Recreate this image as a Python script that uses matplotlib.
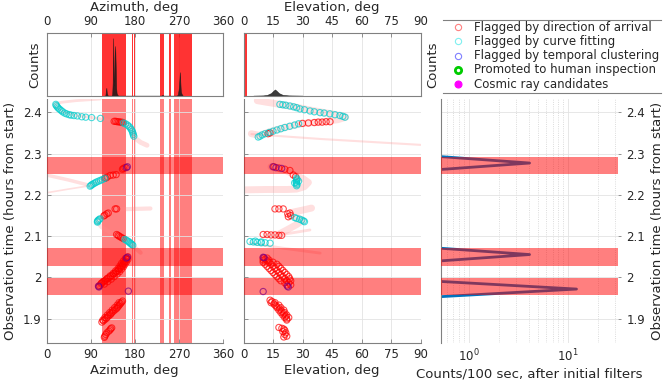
import matplotlib
matplotlib.use("Agg")
import matplotlib.pyplot as plt
from matplotlib.lines import Line2D

# ---- data ----
az_spans = [(113.5, 161.5), (174.5, 176.5), (179, 181), (231, 240), (250, 254), (261, 297)]
el_spans = [(0, 2)]
time_bands = [(2.250, 2.292), (2.029, 2.071), (1.957, 1.998)]

az_hist_deg = [118, 120, 121, 122, 123, 125, 130, 133, 134, 135, 136, 137, 138, 139, 140, 141, 142,
               143, 144, 146, 150, 234, 236, 237, 239, 266, 268, 270, 271, 272, 273, 274, 276, 278]
az_hist_cnt = [0, 0, 3, 6, 2, 0, 0, 0, 1, 10, 44, 12, 8, 30, 38, 25, 6,
               2, 1, 0, 0, 0, 0.5, 0.5, 0, 0, 1, 6, 12, 18, 10, 3, 1, 0]
el_hist_deg = [5, 10, 12, 14, 15, 16, 17, 18, 20, 23, 30]
el_hist_cnt = [0, 0.2, 0.6, 2, 3.5, 4.8, 3.5, 2, 0.6, 0.2, 0]

# azimuth panel: flagged by direction of arrival
az_dir_t = [2.378, 2.378, 2.377, 2.377, 2.376, 2.376, 2.375,
            2.266, 2.264, 2.262, 2.249, 2.248, 2.247, 2.243, 2.241, 2.240,
            2.166, 2.166, 2.156, 2.154, 2.151, 2.149,
            2.104, 2.102, 2.100, 2.098, 2.096, 2.094,
            2.050, 2.047, 2.044, 2.041, 2.038, 2.035, 2.032, 2.029, 2.026, 2.023, 2.020, 2.017,
            2.014, 2.011, 2.008, 2.005, 2.002, 1.999, 1.996, 1.993, 1.990, 1.987, 1.984, 1.981, 1.979,
            2.046, 2.040, 2.034, 2.028, 2.022, 2.016, 2.010, 2.004, 1.998, 1.992, 1.986,
            2.044, 2.038, 2.032, 2.026, 2.020, 2.014, 2.008, 2.002, 1.996, 1.990, 1.984,
            1.943, 1.940, 1.937, 1.934, 1.931, 1.928, 1.925, 1.922, 1.919, 1.916, 1.913, 1.910,
            1.907, 1.904, 1.901, 1.898, 1.895, 1.892,
            1.939, 1.933, 1.927, 1.921, 1.915, 1.909, 1.903, 1.897,
            1.878, 1.876, 1.873, 1.870, 1.866, 1.862, 1.858, 1.855]
az_dir_deg = [138, 141, 144, 147, 150, 153, 156,
              160, 157, 155, 142, 136, 130, 124, 121, 119,
              143, 140, 126, 123, 119, 117,
              143, 146, 148, 151, 154, 157,
              166, 164, 163, 161, 160, 158, 156, 155, 153, 150, 148, 146,
              143, 140, 137, 134, 130, 127, 123, 120, 116, 113, 111, 109, 107,
              161, 157, 153, 150, 146, 141, 136, 130, 124, 118, 112,
              166, 163, 160, 157, 153, 149, 144, 138, 132, 125, 118,
              155, 153, 151, 149, 147, 145, 143, 140, 137, 134, 132, 130,
              127, 124, 122, 119, 116, 113,
              148, 144, 139, 134, 129, 124, 119, 115,
              133, 131, 129.5, 127, 123, 121, 119, 118]

# azimuth panel: flagged by curve fitting
az_fit_t = [2.419, 2.416, 2.413, 2.410, 2.407, 2.404, 2.401, 2.398, 2.396, 2.394, 2.393, 2.392,
            2.391, 2.389, 2.388, 2.387, 2.385,
            2.374, 2.372, 2.369, 2.366, 2.362, 2.358, 2.354, 2.350, 2.346, 2.342,
            2.240, 2.237, 2.235, 2.233, 2.231, 2.229, 2.227, 2.225, 2.223, 2.221,
            2.142, 2.140, 2.138, 2.136, 2.134,
            2.092, 2.090, 2.088, 2.086, 2.084, 2.082, 2.080, 2.078]
az_fit_deg = [19, 20, 22, 24, 27, 30, 33, 37, 41, 46, 50, 56,
              63, 72, 80, 92, 110,
              157, 161, 165, 168, 171, 173, 175, 176, 177, 178,
              119, 114, 110, 106, 102, 99, 96, 93, 91, 89,
              109, 107, 105, 104, 104,
              160, 163, 166, 168, 170, 172, 174, 176]

# azimuth panel: flagged by temporal clustering
az_clu_t = [2.268, 2.266, 2.049, 2.047, 1.979, 1.977, 1.967]
az_clu_deg = [165, 163, 165, 163, 106, 107, 167]

# elevation panel
el_dir_t = [2.377, 2.377, 2.376, 2.376, 2.375, 2.374, 2.373, 2.350, 2.348,
            2.268, 2.265, 2.262, 2.259, 2.248, 2.244,
            2.166, 2.166, 2.166, 2.156, 2.154, 2.150, 2.147,
            2.104, 2.104, 2.103, 2.103, 2.102, 2.102,
            2.047, 2.047, 2.044, 2.042, 2.042, 2.040, 2.037, 2.037, 2.037, 2.032, 2.032, 2.032,
            2.027, 2.027, 2.027, 2.022, 2.022, 2.022, 2.017, 2.017, 2.017, 2.012, 2.012, 2.012,
            2.007, 2.007, 2.007, 2.002, 2.002, 2.002, 1.997, 1.997, 1.997, 1.992, 1.992, 1.992,
            1.987, 1.987, 1.982, 1.982,
            1.945, 1.942, 1.939, 1.939, 1.936, 1.933, 1.933, 1.930, 1.927, 1.927, 1.924, 1.921,
            1.921, 1.918, 1.915, 1.915, 1.912, 1.909, 1.909, 1.906, 1.903, 1.903, 1.900, 1.897,
            1.879, 1.877, 1.875, 1.872, 1.869, 1.866, 1.862, 1.858, 1.856]
el_dir_deg = [44, 42, 40, 38, 36, 33, 30, 13.5, 12.5,
              15.5, 18, 21, 23.6, 25.3, 26.5,
              16, 18, 20.2, 23.6, 22.5, 24, 22.8,
              10, 12, 14, 16, 18, 19.4,
              10, 12, 11, 10, 13, 12, 10, 13, 15, 11, 14, 17,
              12, 15, 18, 13, 16, 19, 14, 17, 20, 15, 18, 21,
              16, 19, 22, 17, 20, 23, 18, 21, 23.5, 19, 22, 24,
              21, 23, 22, 24,
              13.5, 14.5, 14, 16, 15.5, 16, 18, 17, 17, 19, 18.5, 18,
              20.5, 19.5, 19, 21, 20.5, 20, 22, 21.5, 21, 23, 22, 22,
              18, 19.5, 20.5, 21, 20, 21.5, 21, 22, 20.5]
el_fit_t = [2.419, 2.418, 2.417, 2.415, 2.413, 2.411, 2.408, 2.406, 2.403, 2.401, 2.399, 2.398,
            2.396, 2.394, 2.392, 2.390, 2.388,
            2.372, 2.369, 2.366, 2.363, 2.360, 2.357, 2.354, 2.351, 2.348, 2.345, 2.342, 2.340,
            2.240, 2.237, 2.234, 2.231, 2.228, 2.225, 2.222, 2.233, 2.229,
            2.145, 2.143, 2.141, 2.139, 2.137, 2.135,
            2.087, 2.086, 2.085, 2.084, 2.084, 2.083, 2.088, 2.086]
el_fit_deg = [18.5, 20, 21.5, 23.6, 25.5, 27, 28.7, 31, 33.8, 36, 38.9, 41,
              43.9, 46.5, 49, 50.5, 51.6,
              28, 26, 23.5, 21, 19, 17, 15, 13, 11, 9.5, 8.4, 7.5,
              27, 27.2, 27, 26.8, 27, 27.2, 27, 28, 26,
              26, 27, 28.5, 29.6, 30.5, 31,
              3.3, 5, 7, 9, 11, 13.5, 6, 9]
el_clu_t = [2.268, 2.266, 2.264, 2.049, 2.048, 1.979, 1.977, 1.966]
el_clu_deg = [15, 16.5, 19.4, 10, 10.5, 22.3, 22.8, 10]

# faint fitted-track envelopes (deg, hours, width)
az_tracks = [
    ([110, 60, 30, 16, 20, 35, 60, 100, 138], [2.432, 2.428, 2.424, 2.419, 2.413, 2.400, 2.392, 2.386, 2.378], 2),
    ([140, 158, 168, 175, 179, 182, 192, 205], [2.378, 2.374, 2.366, 2.355, 2.344, 2.336, 2.327, 2.320], 3.5),
    ([166, 155, 140, 125, 110, 95, 88, 45, 0], [2.269, 2.262, 2.250, 2.242, 2.233, 2.226, 2.223, 2.236, 2.248], 2.5),
    ([88, 45, 0], [2.222, 2.214, 2.205], 1.2),
    ([212, 180, 150, 130, 117, 107, 104, 112, 128, 145, 160, 175, 192],
     [2.167, 2.166, 2.165, 2.158, 2.150, 2.141, 2.134, 2.122, 2.111, 2.101, 2.091, 2.078, 2.060], 3),
]
el_tracks = [
    ([7, 12, 18.5, 25, 33, 40, 46, 50, 52, 48, 42, 35, 28, 20, 13, 8, 4],
     [2.428, 2.424, 2.419, 2.414, 2.406, 2.400, 2.395, 2.391, 2.388, 2.382, 2.378, 2.375, 2.371,
      2.362, 2.352, 2.344, 2.348], 5),
    ([4, 40, 90], [2.347, 2.335, 2.321], 1.5),
    ([14, 22, 26, 30, 33, 31, 27, 22, 12, 0], [2.268, 2.258, 2.248, 2.240, 2.230, 2.220, 2.214, 2.213, 2.213, 2.212], 5),
    ([34.6, 30, 25, 24, 28, 30, 27, 22, 18], [2.168, 2.163, 2.158, 2.150, 2.144, 2.138, 2.128, 2.115, 2.105], 5),
    ([18.5, 26, 33.8], [2.103, 2.109, 2.115], 2),
    ([3.3, 20, 39], [2.083, 2.071, 2.059], 2),
]

# counts per 100 s bin
rate_t = [2.432, 2.305, 2.277, 2.249, 2.083, 2.0555, 2.028, 2.000, 1.972, 1.944, 1.84]
rate_c = [0.1, 0.1, 4.1, 0.1, 0.1, 4.1, 0.1, 0.1, 12.2, 0.1, 0.1]

time_ticks = [1.9, 2.0, 2.1, 2.2, 2.3, 2.4]
time_labels = ["1.9", "2", "2.1", "2.2", "2.3", "2.4"]
az_ticks = [0, 90, 180, 270, 360]
el_ticks = [0, 15, 30, 45, 60, 75, 90]
tlim = (1.8407, 2.432)

legend_labels = ["Flagged by direction of arrival", "Flagged by curve fitting",
                 "Flagged by temporal clustering", "Promoted to human inspection",
                 "Cosmic ray candidates"]

# ---- figure ----
W, H = 664, 384
fig = plt.figure(figsize=(W / 100, H / 100), dpi=100)
TXT = "#262626"
SPN = "#808080"


def box(x0, y0, x1, y1):
    return [x0 / W, 1 - y1 / H, (x1 - x0) / W, (y1 - y0) / H]


def style(ax):
    for s in ax.spines.values():
        s.set_color(SPN)
        s.set_linewidth(0.8)
    ax.tick_params(which="both", color=SPN, labelcolor=TXT, labelsize=8.5,
                   direction="in", length=3, width=0.6)
    ax.grid(True, color="#e3e3e3", lw=0.6)
    ax.set_axisbelow(True)


ax_ah = fig.add_axes(box(46.5, 33, 223, 95.7))
ax_as = fig.add_axes(box(46.5, 99, 223, 343.3))
ax_eh = fig.add_axes(box(243.5, 33, 420.5, 95.7))
ax_es = fig.add_axes(box(243.5, 99, 420.5, 343.3))
ax_r = fig.add_axes(box(440.7, 99, 618, 343.3))

# histograms
for ax, spans, hx, hy, ticks, lab, lim in (
        (ax_ah, az_spans, az_hist_deg, az_hist_cnt, az_ticks, "Azimuth, deg", 360),
        (ax_eh, el_spans, el_hist_deg, el_hist_cnt, el_ticks, "Elevation, deg", 90)):
    style(ax)
    for a, b in spans:
        ax.axvspan(a, b, color="red", alpha=0.8, lw=0, zorder=1)
    ax.fill_between(hx, 0, hy, color="#1a1a1a", alpha=0.85, lw=0.4, zorder=2)
    ax.set_xlim(0, lim)
    ax.set_ylim(0, 48)
    ax.set_xticks(ticks)
    ax.set_yticks([])
    ax.xaxis.tick_top()
    ax.xaxis.set_label_position("top")
    ax.set_xlabel(lab, fontsize=9.5, color=TXT, labelpad=3)
    ax.set_ylabel("Counts", fontsize=9.5, color=TXT, labelpad=4)
    ax.grid(axis="y", visible=False)
ax_eh.yaxis.set_label_position("right")

# scatter panels
for ax, spans, tracks, series, ticks, lab, lim in (
        (ax_as, az_spans, az_tracks,
         [(az_dir_deg, az_dir_t), (az_fit_deg, az_fit_t), (az_clu_deg, az_clu_t)],
         az_ticks, "Azimuth, deg", 360),
        (ax_es, [], el_tracks,
         [(el_dir_deg, el_dir_t), (el_fit_deg, el_fit_t), (el_clu_deg, el_clu_t)],
         el_ticks, "Elevation, deg", 90)):
    style(ax)
    ax.spines["top"].set_visible(False)
    ax.spines["right"].set_visible(False)
    for a, b in spans:
        ax.axvspan(a, b, color="red", alpha=0.5, lw=0, zorder=0.5)
    for xs, ts, w in tracks:
        ax.plot(xs, ts, color="#ff8c8c", alpha=0.28, lw=w, solid_capstyle="round", zorder=1)
    (dx, dt), (fx, ft), (cx, ct) = series
    ax.scatter(dx, dt, s=20, facecolors="none", edgecolors="red", linewidths=0.8, alpha=0.7, zorder=2)
    ax.scatter(fx, ft, s=20, facecolors="none", edgecolors="#00cccc", linewidths=0.8, alpha=0.7, zorder=2.1)
    ax.scatter(cx, ct, s=20, facecolors="none", edgecolors="blue", linewidths=0.8, alpha=0.7, zorder=2.2)
    for a, b in time_bands:
        ax.axhspan(a, b, color="red", alpha=0.5, lw=0, zorder=3)
    ax.set_xlim(0, lim)
    ax.set_ylim(*tlim)
    ax.set_xticks(ticks)
    ax.set_yticks(time_ticks)
    ax.set_xlabel(lab, fontsize=9.5, color=TXT, labelpad=2)

ax_as.set_yticklabels(time_labels)
ax_as.set_ylabel("Observation time (hours from start)", fontsize=9.5, color=TXT, labelpad=4)
ax_es.set_yticklabels([])

# rate panel
style(ax_r)
ax_r.set_xscale("log")
ax_r.plot(rate_c, rate_t, color="#0072BD", lw=2, zorder=2)
for a, b in time_bands:
    ax_r.axhspan(a, b, color="red", alpha=0.5, lw=0, zorder=3)
ax_r.set_xlim(0.52, 32)
ax_r.set_ylim(*tlim)
ax_r.set_yticks(time_ticks)
ax_r.set_yticklabels(time_labels)
ax_r.grid(True, which="major", color="#e3e3e3", lw=0.6)
ax_r.grid(True, which="minor", axis="x", color="#d0d0d0", lw=0.6, ls=":")
for s in ("top", "right", "bottom"):
    ax_r.spines[s].set_visible(False)
ax_r.tick_params(axis="y", left=False, right=True, labelleft=False, labelright=True,
                 direction="out", length=2.5)
ax_r.tick_params(axis="x", which="both", bottom=False)
ax_r.yaxis.set_label_position("right")
ax_r.set_ylabel("Observation time (hours from start)", fontsize=9.5, color=TXT, labelpad=4)
ax_r.set_xlabel("Counts/100 sec, after initial filters", fontsize=9.5, color=TXT, labelpad=2)

# legend, laid out by hand in figure pixels
leg_marks = [dict(ms=4.5, mfc="none", mec="#ff8080", mew=0.8),
             dict(ms=4.5, mfc="none", mec="#80f0f0", mew=0.8),
             dict(ms=4.5, mfc="none", mec="#8080ff", mew=0.8),
             dict(ms=4.5, mfc="none", mec="#00cc00", mew=2),
             dict(ms=5, mfc="#ff00ff", mec="#ff00ff", mew=0.8)]
for i, (lab, mk) in enumerate(zip(legend_labels, leg_marks)):
    yy = 1 - (27 + 14.3 * i) / H
    fig.add_artist(Line2D([458 / W], [yy], ls="none", marker="o", **mk))
    fig.text(474 / W, yy, lab, fontsize=8.5, color=TXT, va="center", ha="left")
for yy in (20, 93):
    fig.add_artist(Line2D([443 / W, 661 / W], [1 - yy / H, 1 - yy / H], color=SPN, lw=0.8))

fig.savefig("out.png", dpi=100)
